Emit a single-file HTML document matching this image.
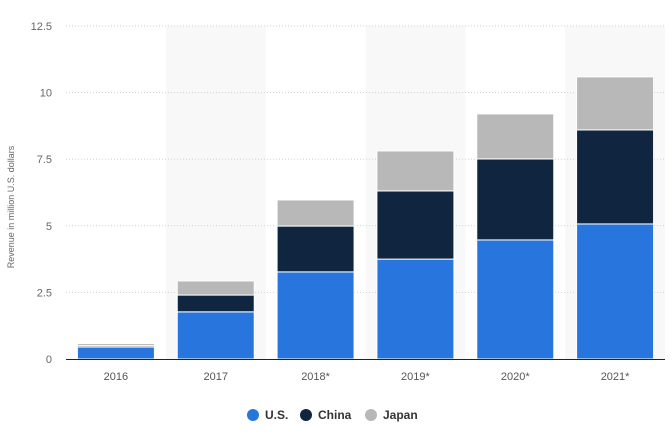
<!DOCTYPE html>
<html><head><meta charset="utf-8"><style>
body{margin:0;background:#fff;font-family:"Liberation Sans",sans-serif}
</style></head><body>
<svg id="chart" width="672" height="430" xmlns="http://www.w3.org/2000/svg"></svg>
<script>
const categories=["2016","2017","2018*","2019*","2020*","2021*"];
const usValues=[0.45,1.77,3.27,3.75,4.47,5.07];
const chinaValues=[0.05,0.63,1.72,2.56,3.04,3.53];
const japanValues=[0.08,0.53,0.98,1.5,1.69,1.99];
const yTicks=[0,2.5,5,7.5,10,12.5];
const yTickLabels=["0","2.5","5","7.5","10","12.5"];
const series=[{name:"U.S.",vals:usValues,color:"#2876dd"},{name:"China",vals:chinaValues,color:"#10253f"},{name:"Japan",vals:japanValues,color:"#b8b8b8"}];
const svg=document.getElementById('chart');
const NS="http://www.w3.org/2000/svg";
const x0=66,x1=665,y0=359,yTop=26,yMax=12.5;
const band=(x1-x0)/categories.length;
const y=v=>y0-(v/yMax)*(y0-yTop);
const xc=i=>x0+band*i+band/2;
function mk(t,a){const e=document.createElementNS(NS,t);for(const k in a)e.setAttribute(k,a[k]);svg.appendChild(e);return e;}
categories.forEach((c,i)=>{if(i%2==1){const r=mk('rect',{x:x0+band*i,y:yTop,width:band,height:y0-yTop,fill:'#f8f8f8'});

}});
yTicks.forEach((t,i)=>{if(t>0){const l=mk('line',{x1:x0,x2:x1,y1:y(t),y2:y(t),stroke:'#cfcfcf','stroke-dasharray':'1,2'});

}
const tx=mk('text',{x:52,y:y(t)+4,'text-anchor':'end','font-size':11,fill:'#666'});tx.textContent=yTickLabels[i];

});
const bw=77;
categories.forEach((c,i)=>{let base=0;series.forEach(s=>{const v=s.vals[i];const top=base+v;
const r=mk('rect',{x:xc(i)-bw/2,y:y(top),width:bw,height:Math.max(0,y(base)-y(top)),fill:s.color,stroke:'#fff','stroke-width':1});


base=top;});
const tx=mk('text',{x:xc(i),y:y0+21,'text-anchor':'middle','font-size':11,fill:'#555'});tx.textContent=c;

});
const ax=mk('line',{x1:x0,x2:x1,y1:y0+0.5,y2:y0+0.5,stroke:'#222','stroke-width':1});


const yt=mk('text',{x:14,y:207,'text-anchor':'middle','font-size':9,fill:'#666',transform:'rotate(-90 14 207)'});yt.textContent='Revenue in million U.S. dollars';


const lx=[253,306,371];
series.forEach((s,i)=>{const c=mk('circle',{cx:lx[i],cy:415,r:6,fill:s.color});


const t=mk('text',{x:lx[i]+12,y:419,'font-size':12,'font-weight':'bold',fill:'#333'});t.textContent=s.name;

});
</script>
</body></html>
